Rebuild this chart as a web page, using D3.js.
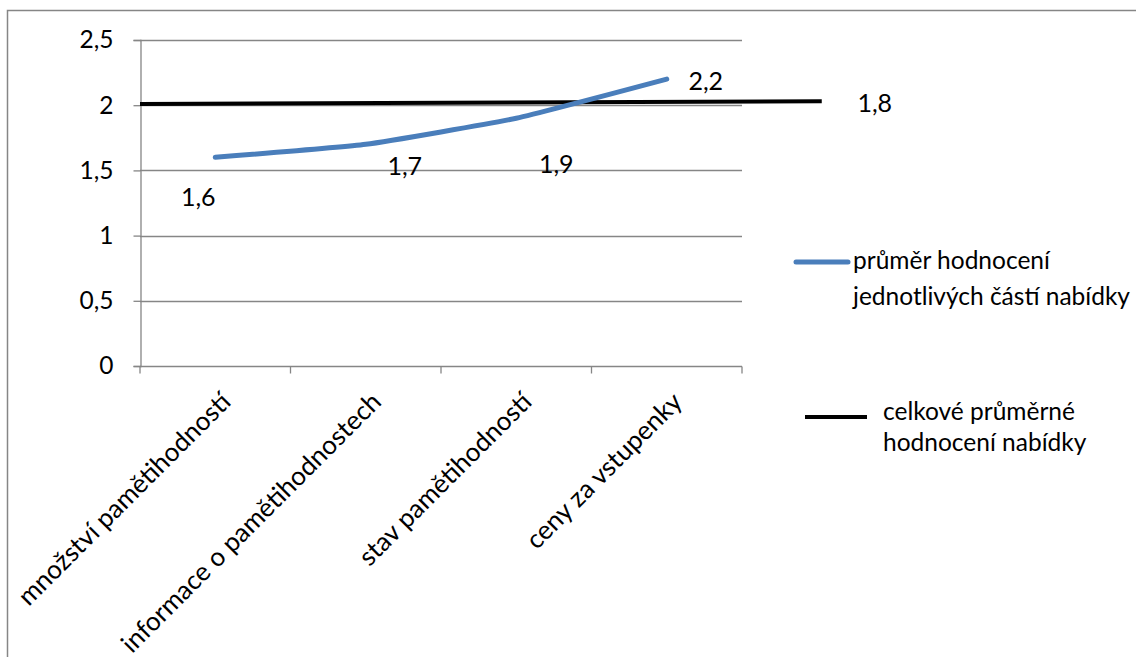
<!DOCTYPE html>
<html>
<head>
<meta charset="utf-8">
<script src="https://cdn.jsdelivr.net/npm/d3@7"></script>
<style>
html,body{margin:0;padding:0;background:#fff;}
svg{display:block;}
text{font-family:Lato, "Open Sans", sans-serif;fill:#000;}
</style>
</head>
<body>
<svg id="chart" width="1136" height="657"></svg>
<script>
// ---- data ----
const categories = ["množství pamětihodností", "informace o pamětihodnostech", "stav pamětihodností", "ceny za vstupenky"];
const seriesValues = [1.6, 1.7, 1.9, 2.2];
const seriesLabels = ["1,6", "1,7", "1,9", "2,2"];
const overallValue = 1.8;           // value shown as label
const overallLineY = [2.01, 2.03];  // drawn heights of the overall line (start, end)
const overallLineX = [-0.5, 4.03];  // in category-index units
const yTicks = [0, 0.5, 1, 1.5, 2, 2.5];
const yTickLabels = ["0", "0,5", "1", "1,5", "2", "2,5"];
const legendLabels = [["průměr hodnocení", "jednotlivých částí nabídky"], ["celkové průměrné", "hodnocení nabídky"]];
// label offsets (px) for data labels
const labelOffsets = [[-17, 39], [39, 21], [40, 45], [39, 1]];

// ---- layout ----
const svg = d3.select("#chart");
const plot = {left: 140, right: 742, top: 40, bottom: 366};
const blue = "#4a7ebb";
const grid = "#868686";
const fsTick = 24.5, fsCat = 26, fsLab = 25, fsLeg = 24.5;

// border
svg.append("rect").attr("x", 7.5).attr("y", 10.5).attr("width", 1140).attr("height", 660)
  .attr("fill", "none").attr("stroke", grid).attr("stroke-width", 1.5);

const x = d3.scaleBand().domain(categories).range([plot.left, plot.right]).paddingInner(0).paddingOuter(0);
const xi = d3.scaleLinear().domain([-0.5, categories.length - 0.5]).range([plot.left, plot.right]);
const y = d3.scaleLinear().domain([0, 2.5]).range([plot.bottom, plot.top]);

// gridlines
svg.append("g").selectAll("line").data(yTicks.filter(d => d > 0)).join("line")
  .attr("x1", plot.left).attr("x2", plot.right)
  .attr("y1", d => Math.round(y(d)) + 0.5).attr("y2", d => Math.round(y(d)) + 0.5)
  .attr("stroke", grid).attr("stroke-width", 1.3);

// y axis
const yAxis = d3.axisLeft(y).tickValues(yTicks).tickSize(7).tickPadding(20)
  .tickFormat((d, i) => yTickLabels[i]);
const gy = svg.append("g").attr("transform", `translate(${plot.left + 0.5},0)`).call(yAxis);
gy.selectAll("path.domain").attr("stroke", grid).attr("stroke-width", 1.3);
gy.selectAll(".tick line").attr("stroke", grid).attr("stroke-width", 1.3);
gy.selectAll(".tick text").style("font-family", "Lato").style("font-size", fsTick + "px").attr("fill", "#000");

// x axis
const gx = svg.append("g").attr("transform", `translate(0,${plot.bottom + 0.5})`);
gx.append("line").attr("x1", plot.left).attr("x2", plot.right).attr("stroke", grid).attr("stroke-width", 1.3);
const bounds = d3.range(categories.length + 1).map(i => xi(i - 0.5));
gx.selectAll("line.tk").data(bounds).join("line").attr("class", "tk")
  .attr("x1", d => d).attr("x2", d => d).attr("y1", 0).attr("y2", 7)
  .attr("stroke", grid).attr("stroke-width", 1.3);
gx.selectAll("text.cat").data(categories).join("text").attr("class", "cat")
  .attr("transform", d => `translate(${x(d) + x.bandwidth() / 2 + 17},${37}) rotate(-45)`)
  .attr("text-anchor", "end")
  .style("font-size", fsCat + "px")
  .text(d => d);

// overall black line
svg.append("line")
  .attr("x1", xi(overallLineX[0])).attr("x2", xi(overallLineX[1]))
  .attr("y1", y(overallLineY[0])).attr("y2", y(overallLineY[1]))
  .attr("stroke", "#000").attr("stroke-width", 4);
svg.append("text")
  .attr("x", xi(overallLineX[1]) + 53).attr("y", y(overallLineY[1]) + 1)
  .attr("text-anchor", "middle").attr("dominant-baseline", "central")
  .style("font-size", fsLab + "px")
  .text(String(overallValue).replace(".", ","));

// blue series line
const line = d3.line().x((d, i) => x(categories[i]) + x.bandwidth() / 2).y(d => y(d)).curve(d3.curveCardinal.tension(0.6));
svg.append("path").datum(seriesValues).attr("d", line)
  .attr("fill", "none").attr("stroke", blue).attr("stroke-width", 5).attr("stroke-linecap", "round");

// data labels
svg.append("g").selectAll("text").data(seriesValues).join("text")
  .attr("x", (d, i) => x(categories[i]) + x.bandwidth() / 2 + labelOffsets[i][0])
  .attr("y", (d, i) => y(d) + labelOffsets[i][1])
  .attr("text-anchor", "middle").attr("dominant-baseline", "central")
  .style("font-size", fsLab + "px")
  .text((d, i) => seriesLabels[i]);

// legend
const lg = svg.append("g");
lg.append("line").attr("x1", 796).attr("x2", 848).attr("y1", 262).attr("y2", 262)
  .attr("stroke", blue).attr("stroke-width", 5).attr("stroke-linecap", "round");
lg.append("text").attr("x", 853).attr("y", 269).style("font-size", fsLeg + "px").text(legendLabels[0][0]);
lg.append("text").attr("x", 853).attr("y", 305).style("font-size", fsLeg + "px").text(legendLabels[0][1]);
lg.append("line").attr("x1", 805).attr("x2", 867).attr("y1", 417).attr("y2", 417)
  .attr("stroke", "#000").attr("stroke-width", 4);
lg.append("text").attr("x", 883).attr("y", 420).style("font-size", fsLeg + "px").text(legendLabels[1][0]);
lg.append("text").attr("x", 883).attr("y", 451).style("font-size", fsLeg + "px").text(legendLabels[1][1]);
</script>
</body>
</html>
